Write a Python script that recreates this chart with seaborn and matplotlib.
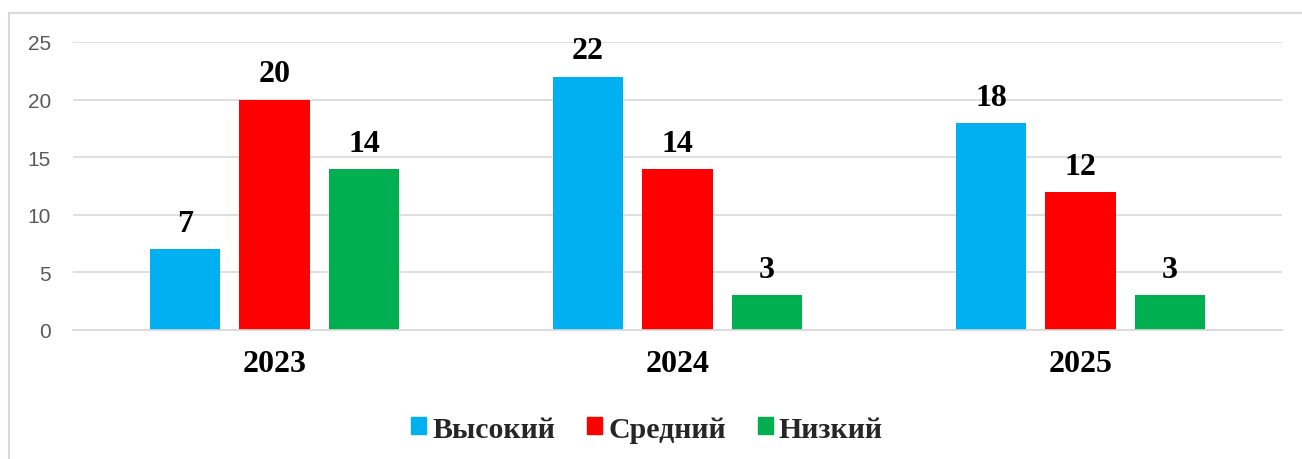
import matplotlib
matplotlib.use("Agg")
import matplotlib.pyplot as plt
import seaborn as sns
import pandas as pd
from matplotlib.patches import Rectangle

years = ["2023", "2024", "2025"]
levels = ["Высокий", "Средний", "Низкий"]
high = [7, 22, 18]
mid = [20, 14, 12]
low = [14, 3, 3]
colors = ["#00B0F0", "#FF0000", "#00B050"]

rows = []
for i, y in enumerate(years):
    for lev, vals in zip(levels, [high, mid, low]):
        rows.append({"year": y, "level": lev, "value": vals[i]})
df = pd.DataFrame(rows)

sns.set_theme(style="white")
plt.rcParams["font.family"] = ["Liberation Serif", "DejaVu Serif"]

fig = plt.figure(figsize=(13.02, 4.60), dpi=100)
ax = fig.add_axes([73/1302, 1 - 331/460, 1209/1302, 288/460])

sns.barplot(data=df, x="year", y="value", hue="level", order=years,
            hue_order=levels, palette=colors, width=0.666, gap=0.216,
            saturation=1, ax=ax, legend=True, errorbar=None, linewidth=0)

ax.set_ylim(0, 25)
ax.set_xlim(-0.5, 2.5)
ax.set_yticks([0, 5, 10, 15, 20, 25])
ax.yaxis.grid(True, color="#D9D9D9", lw=1.2)
ax.set_axisbelow(True)
for s in ["top", "right", "left"]:
    ax.spines[s].set_visible(False)
ax.spines["bottom"].set_color("#D9D9D9")
ax.spines["bottom"].set_linewidth(1.2)
ax.set_xlabel("")
ax.set_ylabel("")
ax.tick_params(axis="both", length=0)
for t in ax.get_yticklabels():
    t.set_fontfamily("Liberation Sans")
    t.set_fontsize(15)
    t.set_color("#595959")
ax.tick_params(axis="y", pad=16)
ax.tick_params(axis="x", pad=14)
for t in ax.get_xticklabels():
    t.set_fontsize(23)
    t.set_fontweight("bold")
    t.set_color("black")

for c in ax.containers:
    ax.bar_label(c, fmt="%d", padding=8, fontsize=23, fontweight="bold", color="black")

ax.legend_.remove()
handles = [Rectangle((0, 0), 1, 1, color=c) for c in colors]
fig.legend(handles, levels, loc="center", bbox_to_anchor=(647/1302, 1 - 430/460),
           ncol=3, frameon=False, handlelength=0.5, handleheight=0.5,
           handletextpad=0.2, columnspacing=1.07,
           prop={"family": "Liberation Serif", "weight": "bold", "size": 21.5})

fig.patches.append(Rectangle((9/1302, -0.1), 1.1, 1 - 14/460 + 0.1,
                             transform=fig.transFigure, fill=False,
                             edgecolor="#D9D9D9", lw=1.5))

fig.savefig("out.png", dpi=100)
